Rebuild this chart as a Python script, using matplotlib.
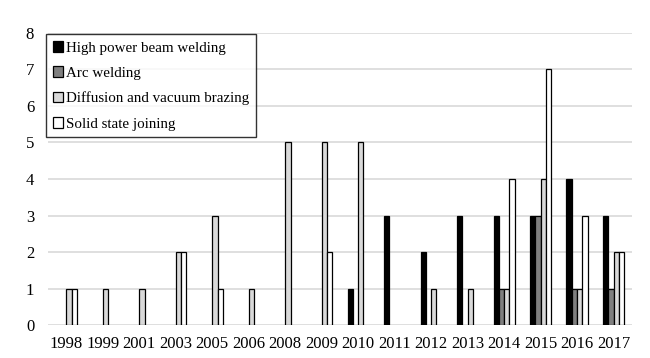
import matplotlib.pyplot as plt
import numpy as np

plt.rcParams['font.family'] = ['Liberation Serif', 'DejaVu Serif']

years = ["1998", "1999", "2001", "2003", "2005", "2006", "2008", "2009",
         "2010", "2011", "2012", "2013", "2014", "2015", "2016", "2017"]
high_power = [0, 0, 0, 0, 0, 0, 0, 0, 1, 3, 2, 3, 3, 3, 4, 3]
arc = [0, 0, 0, 0, 0, 0, 0, 0, 0, 0, 0, 0, 1, 3, 1, 1]
diffusion = [1, 1, 1, 2, 3, 1, 5, 5, 5, 0, 1, 1, 1, 4, 1, 2]
solid = [1, 0, 0, 2, 1, 0, 0, 2, 0, 0, 0, 0, 4, 7, 3, 2]

series = [("High power beam welding", high_power, "#000000"),
          ("Arc welding", arc, "#7f7f7f"),
          ("Diffusion and vacuum brazing", diffusion, "#d9d9d9"),
          ("Solid state joining", solid, "#ffffff")]

fig = plt.figure(figsize=(6.5, 3.58), dpi=100)
ax = fig.add_axes([0.074, 0.092, 0.898, 0.816])

x = np.arange(len(years))
w = 0.145
for i, (name, vals, col) in enumerate(series):
    # no outline on empty bars, otherwise they show up as ticks on the baseline
    lws = [0.9 if v else 0 for v in vals]
    ax.bar(x + (i - 1.5) * w, vals, w, color=col, edgecolor="black",
           linewidth=lws, label=name, zorder=3)

ax.set_ylim(0, 8)
ax.set_xlim(-0.5, len(years) - 0.5)
ax.set_xticks(x)
ax.set_xticklabels(years)
ax.set_yticks(range(9))
ax.yaxis.grid(True, color="#d9d9d9", linewidth=1.2, zorder=0)
ax.tick_params(axis="both", length=0, labelsize=12)
ax.tick_params(axis="x", pad=8)
ax.tick_params(axis="y", pad=10)
for s in ax.spines.values():
    s.set_visible(False)

leg = ax.legend(loc="upper left", bbox_to_anchor=(-0.004, 0.995), fontsize=10.8,
                frameon=True, fancybox=False, edgecolor="black",
                handlelength=0.7, handleheight=0.7, handletextpad=0.2,
                labelspacing=0.78, borderpad=0.45, borderaxespad=0)
leg.get_frame().set_linewidth(1.0)
for h in leg.legend_handles:
    h.set_linewidth(0.9)

fig.savefig("out.png", dpi=100)
